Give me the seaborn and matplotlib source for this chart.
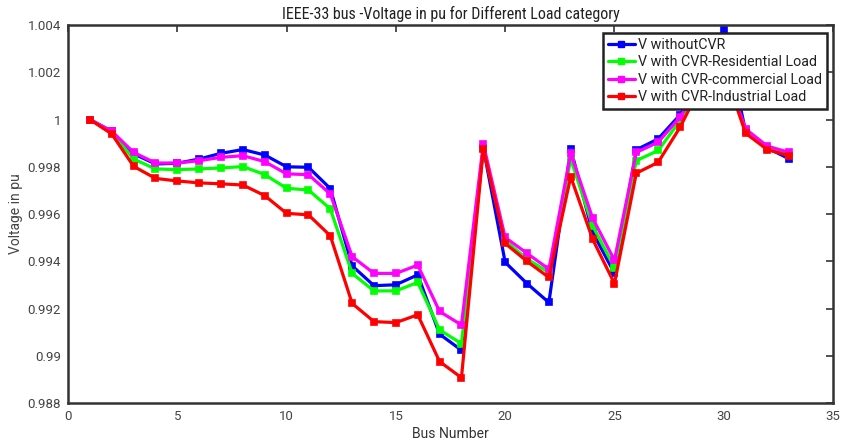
import matplotlib
matplotlib.use("Agg")
import matplotlib.pyplot as plt
from matplotlib.lines import Line2D
import seaborn as sns
import pandas as pd
import numpy as np

bus = list(range(1, 34))
v_without = [1.0000, 0.99950, 0.99855, 0.99812, 0.99815, 0.99833, 0.99857, 0.99873, 0.99850, 0.99800,
             0.99798, 0.99708, 0.99381, 0.99297, 0.99301, 0.99343, 0.99092, 0.99024, 0.99880, 0.99396,
             0.99306, 0.99226, 0.99876, 0.99523, 0.99350, 0.99872, 0.99918, 1.00020, 1.00160, 1.00380,
             0.99950, 0.99880, 0.99833]
v_residential = [1.0000, 0.99945, 0.99833, 0.99791, 0.99788, 0.99791, 0.99795, 0.99801, 0.99767, 0.99709,
                 0.99702, 0.99622, 0.99349, 0.99275, 0.99275, 0.99311, 0.99110, 0.99052, 0.99880, 0.99487,
                 0.99410, 0.99353, 0.99833, 0.99551, 0.99374, 0.99826, 0.99869, 0.99995, 1.00155, 1.00215,
                 0.99955, 0.99880, 0.99850]
v_commercial = [1.0000, 0.99950, 0.99861, 0.99816, 0.99816, 0.99826, 0.99840, 0.99847, 0.99822, 0.99770,
                0.99767, 0.99685, 0.99420, 0.99349, 0.99349, 0.99384, 0.99188, 0.99131, 0.99897, 0.99501,
                0.99434, 0.99367, 0.99857, 0.99583, 0.99405, 0.99861, 0.99904, 1.00010, 1.00160, 1.00220,
                0.99960, 0.99887, 0.99861]
v_industrial = [1.0000, 0.99939, 0.99802, 0.99751, 0.99740, 0.99732, 0.99728, 0.99723, 0.99678, 0.99603,
                0.99597, 0.99508, 0.99222, 0.99145, 0.99141, 0.99174, 0.98976, 0.98908, 0.99876, 0.99476,
                0.99400, 0.99332, 0.99758, 0.99494, 0.99306, 0.99773, 0.99819, 0.99967, 1.00150, 1.00213,
                0.99942, 0.99872, 0.99847]

series_names = ["V withoutCVR", "V with CVR-Residential Load",
                "V with CVR-commercial Load", "V with CVR-Industrial Load"]
series_values = [v_without, v_residential, v_commercial, v_industrial]
colors = ["#0000ff", "#00ff00", "#ff00ff", "#ff0000"]

x_ticks = [0, 5, 10, 15, 20, 25, 30, 35]
y_ticks = [0.988, 0.99, 0.992, 0.994, 0.996, 0.998, 1.0, 1.002, 1.004]
y_ticklabels = ["0.988", "0.99", "0.992", "0.994", "0.996", "0.998", "1", "1.002", "1.004"]

rows = []
for name, vals in zip(series_names, series_values):
    for b, v in zip(bus, vals):
        rows.append({"Bus": b, "Voltage": v, "Series": name})
df = pd.DataFrame(rows)

sns.set_style("white")
narrow = ["Roboto Condensed", "Liberation Sans Narrow", "Roboto", "DejaVu Sans"]
plt.rcParams["font.family"] = ["Roboto", "DejaVu Sans"]

fig = plt.figure(figsize=(8.44, 4.46), dpi=100)
ax = fig.add_axes([0.0806, 0.096, 0.9064, 0.848])

sns.lineplot(data=df, x="Bus", y="Voltage", hue="Series", hue_order=series_names,
             palette=dict(zip(series_names, colors)), style="Series",
             markers={n: "s" for n in series_names}, dashes=False,
             linewidth=2.3, markersize=5, markeredgewidth=1.2, legend=False, ax=ax)

for ln, c in zip(ax.get_lines(), colors):
    ln.set_markeredgecolor(c)
    ln.set_markerfacecolor(c)

ax.set_xlim(0, 35)
ax.set_ylim(0.988, 1.004)
ax.set_xticks(x_ticks)
ax.set_yticks(y_ticks)
ax.set_yticklabels(y_ticklabels)
ax.tick_params(direction="in", top=True, right=True, length=5, width=1.2,
               labelsize=9.5, colors="#333333", labelcolor="#444444", pad=5)
for sp in ax.spines.values():
    sp.set_linewidth(1.8)
    sp.set_color("#333333")

ax.set_xlabel("Bus Number", fontsize=10, color="#333333", labelpad=3)
ax.set_ylabel("Voltage in pu", fontsize=10, color="#444444", labelpad=3)
ax.set_title("IEEE-33 bus -Voltage in pu for Different Load category", fontsize=11.5,
             family=narrow, color="#222222", pad=4)

handles = [Line2D([0], [0], color=c, lw=2.3, marker="s", markersize=5,
                  markerfacecolor=c, markeredgecolor=c) for c in colors]
leg = ax.legend(handles, series_names, loc="upper right", bbox_to_anchor=(0.9925, 0.98),
                frameon=True, fancybox=False, framealpha=1, edgecolor="#222222",
                fontsize=10.3, handlelength=1.9, handletextpad=0.25, borderpad=0.35,
                labelspacing=0.25, borderaxespad=0.0)
leg.get_frame().set_linewidth(1.8)
for t in leg.get_texts():
    t.set_color("#222222")

fig.savefig("out.png", dpi=100, facecolor="white")
